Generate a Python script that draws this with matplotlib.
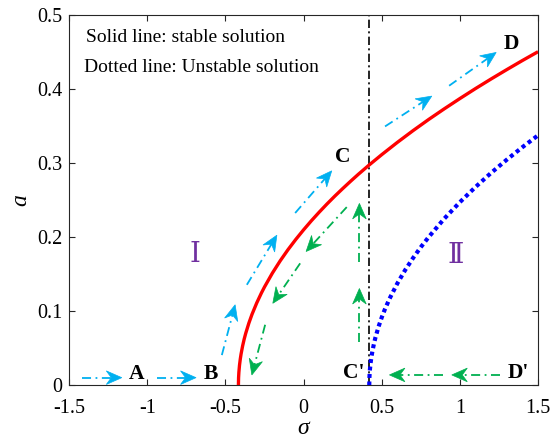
import numpy as np
import matplotlib
matplotlib.use("Agg")
import matplotlib.pyplot as plt
from matplotlib.patches import Polygon
from matplotlib.transforms import IdentityTransform

plt.rcParams["font.family"] = ["Liberation Serif", "DejaVu Serif"]
plt.rcParams["axes.unicode_minus"] = False

# Stable branch (solid red) and unstable branch (dotted blue) of the response curve
sigma_stable = [-0.417, -0.416, -0.414, -0.41, -0.405, -0.40, -0.39, -0.38, -0.37,
                -0.35, -0.33, -0.30, -0.27, -0.25, -0.20, -0.15, -0.10, -0.05,
                0.0, 0.05, 0.10, 0.15, 0.20, 0.25, 0.30, 0.35, 0.42, 0.50, 0.60,
                0.70, 0.80, 0.90, 1.00, 1.10, 1.20, 1.30, 1.40, 1.50]
a_stable = [0.0, 0.0103, 0.0178, 0.0273, 0.0357, 0.0425, 0.0535, 0.0627, 0.0706,
            0.0843, 0.0961, 0.1114, 0.1249, 0.1331, 0.1517, 0.1683, 0.1834, 0.1973,
            0.2103, 0.2226, 0.2342, 0.2453, 0.2559, 0.2660, 0.2758, 0.2853, 0.2980,
            0.3119, 0.3285, 0.3443, 0.3594, 0.3738, 0.3877, 0.4012, 0.4142, 0.4268,
            0.4391, 0.4510]

sigma_unstable = [0.42, 0.421, 0.423, 0.425, 0.43, 0.435, 0.44, 0.45, 0.46, 0.48,
                  0.50, 0.52, 0.55, 0.60, 0.65, 0.70, 0.75, 0.80, 0.90, 1.00,
                  1.10, 1.20, 1.30, 1.40, 1.50]
a_unstable = [0.0, 0.0103, 0.0178, 0.0230, 0.0325, 0.0398, 0.0460, 0.0563, 0.0651,
              0.0797, 0.0920, 0.1029, 0.1173, 0.1380, 0.1560, 0.1721, 0.1869,
              0.2005, 0.2254, 0.2477, 0.2682, 0.2873, 0.3051, 0.3220, 0.3380]

sigma_jump = 0.42

# Sweep-up path (start sigma, start a, end sigma, end a)
up_x0 = [-1.419, -0.939, -0.523, -0.363, -0.054, 0.521, 0.931]
up_y0 = [0.0105, 0.0105, 0.041, 0.136, 0.233, 0.350, 0.405]
up_x1 = [-1.163, -0.688, -0.438, -0.171, 0.180, 0.820, 1.232]
up_y1 = [0.0105, 0.0105, 0.109, 0.203, 0.290, 0.391, 0.450]

# Sweep-down path
down_x0 = [1.257, 0.895, 0.357, 0.357, 0.276, -0.022, -0.246]
down_y0 = [0.0142, 0.0142, 0.059, 0.167, 0.241, 0.165, 0.082]
down_x1 = [0.948, 0.549, 0.357, 0.357, 0.016, -0.197, -0.331]
down_y1 = [0.0142, 0.0142, 0.131, 0.246, 0.181, 0.111, 0.0142]

point_names = ["A", "B", "C", "D", "C'", "D'"]
point_x = [-1.071, -0.592, 0.251, 1.332, 0.319, 1.374]
point_y = [0.0150, 0.0150, 0.309, 0.461, 0.0165, 0.0165]

region_names = ["Ⅰ", "Ⅱ"]
region_x = [-0.694, 0.976]
region_y = [0.176, 0.174]

x_ticks = [-1.5, -1, -0.5, 0, 0.5, 1, 1.5]
x_ticklabels = ["-1.5", "-1", "-0.5", "0", "0.5", "1", "1.5"]
y_ticks = [0, 0.1, 0.2, 0.3, 0.4, 0.5]
y_ticklabels = ["0", "0.1", "0.2", "0.3", "0.4", "0.5"]

CYAN = "#00B0F0"
GREEN = "#00B050"
PURPLE = "#7030A0"

fig = plt.figure(figsize=(5.53, 4.41), dpi=100)
ax = fig.add_axes([0.125, 0.126, 0.848, 0.839])
ax.set_xlim(-1.5, 1.5)
ax.set_ylim(0, 0.5)

ax.plot(sigma_stable, a_stable, color="red", lw=2.4, solid_capstyle="butt",
        solid_joinstyle="round", zorder=3)
ax.plot(sigma_unstable, a_unstable, color="#0000FF", lw=3.0,
        linestyle=(0, (0.95, 0.85)), dash_capstyle="butt", zorder=3)
ax.plot([sigma_jump, sigma_jump], [0, 0.5], color="black", lw=1.2,
        linestyle=(0, (5, 2, 1.2, 2)), zorder=2)


def arrow(x0, y0, x1, y1, color):
    # dash-dot shaft, then a swept-back filled head built in pixel space
    p0 = ax.transData.transform((x0, y0))
    p1 = ax.transData.transform((x1, y1))
    d = p1 - p0
    u = d / np.hypot(*d)
    n = np.array([-u[1], u[0]])
    head_len, half_w, notch = 15.5, 6.8, 5.0
    base = p1 - u * (head_len - notch)
    shaft_end = ax.transData.inverted().transform(base)
    ax.plot([x0, shaft_end[0]], [y0, shaft_end[1]], color=color, lw=1.3,
            linestyle=(0, (5, 2.5, 1, 2.5)), zorder=4)
    pts = [p1,
           p1 - u * head_len + n * half_w,
           base,
           p1 - u * head_len - n * half_w]
    ax.add_patch(Polygon(pts, closed=True, facecolor=color, edgecolor=color,
                         lw=0.5, transform=IdentityTransform(), zorder=5))


for i in range(len(up_x0)):
    arrow(up_x0[i], up_y0[i], up_x1[i], up_y1[i], CYAN)
for i in range(len(down_x0)):
    arrow(down_x0[i], down_y0[i], down_x1[i], down_y1[i], GREEN)

for name, x, y in zip(point_names, point_x, point_y):
    ax.text(x, y, name, fontsize=15.5, fontweight="bold", ha="center",
            va="center", zorder=6)

for name, x, y in zip(region_names, region_x, region_y):
    ax.text(x, y, name, fontsize=20, color=PURPLE, ha="center", va="center",
            family=["Liberation Serif", "DejaVu Serif", "Noto Sans CJK JP"])

ax.text(-1.392, 0.470, "Solid line: stable solution", fontsize=14,
        ha="left", va="center")
ax.text(-1.404, 0.429, "Dotted line: Unstable solution", fontsize=14,
        ha="left", va="center")

ax.set_xticks(x_ticks)
ax.set_xticklabels(x_ticklabels)
ax.set_yticks(y_ticks)
ax.set_yticklabels(y_ticklabels)
ax.tick_params(direction="in", top=True, right=True, length=4, width=0.8,
               labelsize=14.5, colors="#262626", labelcolor="black")
ax.tick_params(axis="x", pad=10)
ax.tick_params(axis="y", pad=5)
for s in ax.spines.values():
    s.set_color("#262626")
    s.set_linewidth(0.8)

ax.set_xlabel("σ", fontsize=17, style="italic", labelpad=0)
ax.set_ylabel("a", fontsize=17, style="italic", labelpad=4)

fig.savefig("out.png", dpi=100)
